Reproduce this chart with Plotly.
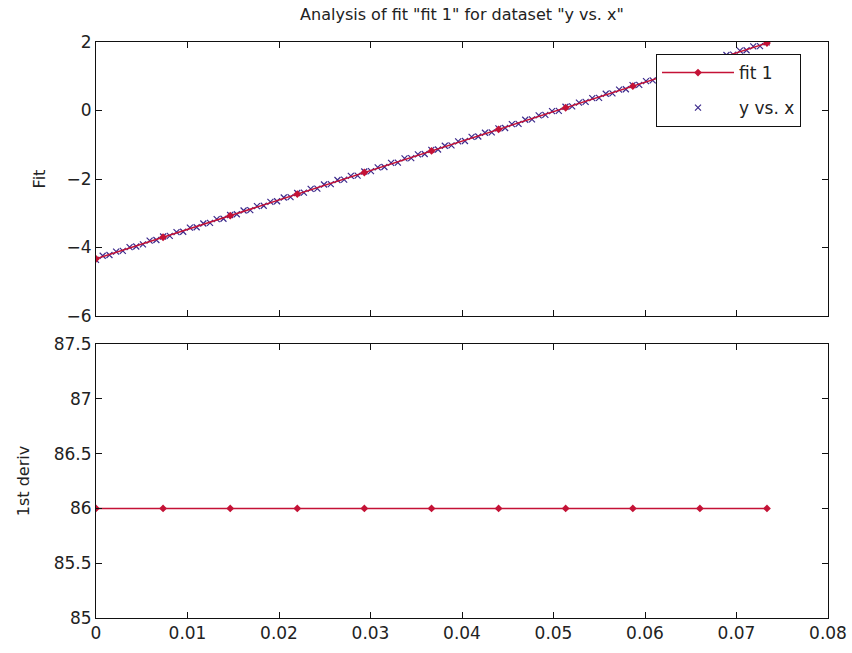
import plotly.graph_objects as go

# ---- data ----
fit_x = [0, 0.00733, 0.01467, 0.02200, 0.02933, 0.03667, 0.04400, 0.05133, 0.05867, 0.06600, 0.07333]
fit_y = [-4.33, -3.70, -3.07, -2.44, -1.81, -1.18, -0.55, 0.08, 0.71, 1.34, 1.97]
deriv_y = [86.0, 86.0, 86.0, 86.0, 86.0, 86.0, 86.0, 86.0, 86.0, 86.0, 86.0]

data_x = [0, 0.00073, 0.00147, 0.00220, 0.00293, 0.00367, 0.00440, 0.00513, 0.00586, 0.00660,
          0.00733, 0.00806, 0.00880, 0.00953, 0.01026, 0.01100, 0.01173, 0.01246, 0.01319, 0.01393,
          0.01466, 0.01539, 0.01613, 0.01686, 0.01759, 0.01833, 0.01906, 0.01979, 0.02052, 0.02126,
          0.02199, 0.02272, 0.02346, 0.02419, 0.02492, 0.02566, 0.02639, 0.02712, 0.02785, 0.02859,
          0.02932, 0.03005, 0.03079, 0.03152, 0.03225, 0.03299, 0.03372, 0.03445, 0.03518, 0.03592,
          0.03665, 0.03738, 0.03812, 0.03885, 0.03958, 0.04032, 0.04105, 0.04178, 0.04251, 0.04325,
          0.04398, 0.04471, 0.04545, 0.04618, 0.04691, 0.04765, 0.04838, 0.04911, 0.04984, 0.05058,
          0.05131, 0.05204, 0.05278, 0.05351, 0.05424, 0.05498, 0.05571, 0.05644, 0.05717, 0.05791,
          0.05864, 0.05937, 0.06011, 0.06084, 0.06157, 0.06231, 0.06304, 0.06377, 0.06450, 0.06524,
          0.06597, 0.06670, 0.06744, 0.06817, 0.06890, 0.06964, 0.07037, 0.07110, 0.07183, 0.07257,
          0.07330]
data_y = [-4.36, -4.24, -4.22, -4.12, -4.10, -3.99, -3.97, -3.91, -3.80, -3.78,
          -3.68, -3.66, -3.55, -3.54, -3.42, -3.41, -3.30, -3.28, -3.17, -3.16,
          -3.05, -3.03, -2.92, -2.91, -2.79, -2.78, -2.67, -2.65, -2.54, -2.53,
          -2.41, -2.40, -2.29, -2.28, -2.16, -2.15, -2.03, -2.02, -1.91, -1.90,
          -1.78, -1.77, -1.66, -1.65, -1.53, -1.52, -1.40, -1.39, -1.28, -1.27,
          -1.15, -1.14, -1.03, -1.02, -0.90, -0.89, -0.77, -0.76, -0.65, -0.64,
          -0.52, -0.51, -0.40, -0.39, -0.27, -0.26, -0.14, -0.13, -0.02, -0.01,
          0.11, 0.12, 0.23, 0.25, 0.36, 0.37, 0.49, 0.50, 0.61, 0.62,
          0.74, 0.75, 0.86, 0.88, 0.99, 1.00, 1.12, 1.13, 1.24, 1.25,
          1.37, 1.38, 1.49, 1.51, 1.62, 1.63, 1.75, 1.76, 1.87, 1.88,
          1.99]

x_ticks = [0, 0.01, 0.02, 0.03, 0.04, 0.05, 0.06, 0.07, 0.08]
top_y_ticks = [-6, -4, -2, 0, 2]
bot_y_ticks = [85, 85.5, 86, 86.5, 87, 87.5]

title_text = 'Analysis of fit "fit 1" for dataset "y vs. x"'

# ---- style ----
RED = "#c41236"
BLUE = "#3c2a8c"
FONT = "DejaVu Sans"
TXT = "#222"
W, H = 852, 653
L, R = 96, 828
T1, B1 = 42, 316
T2, B2 = 344, 618

fig = go.Figure()
fig.add_trace(go.Scatter(x=data_x, y=data_y, mode="markers", name="y vs. x",
                         legendgroup="b", legendrank=2,
                         marker=dict(symbol="x-thin", size=6, color=BLUE,
                                     line=dict(width=1.2, color=BLUE)),
                         xaxis="x", yaxis="y"))
fig.add_trace(go.Scatter(x=fit_x, y=fit_y, mode="lines+markers", name="fit 1",
                         legendgroup="a", legendrank=1,
                         line=dict(color=RED, width=1.5),
                         marker=dict(symbol="diamond", size=6, color=RED),
                         xaxis="x", yaxis="y"))
fig.add_trace(go.Scatter(x=fit_x, y=deriv_y, mode="lines+markers", showlegend=False,
                         line=dict(color=RED, width=1.5),
                         marker=dict(symbol="diamond", size=6, color=RED),
                         xaxis="x2", yaxis="y2"))

axis_common = dict(showline=True, linecolor="#111", linewidth=1, mirror="ticks",
                   ticks="inside", ticklen=6, tickcolor="#111", showgrid=False,
                   zeroline=False, automargin=False,
                   tickfont=dict(family=FONT, size=17, color=TXT))

fig.update_layout(
    width=W, height=H,
    margin=dict(l=0, r=0, t=0, b=0),
    paper_bgcolor="white", plot_bgcolor="white",
    title=dict(text=title_text, x=(L + R) / 2 / W, xanchor="center",
               y=1 - 14 / H, yanchor="middle",
               font=dict(family=FONT, size=16, color=TXT)),
    xaxis=dict(domain=[L / W, R / W], range=[0, 0.08], tickvals=x_ticks,
               showticklabels=False, anchor="y", **axis_common),
    yaxis=dict(domain=[1 - B1 / H, 1 - T1 / H], range=[-6, 2], tickvals=top_y_ticks,
               anchor="x",
               title=dict(text="Fit", standoff=16, font=dict(family=FONT, size=16, color=TXT)),
               **axis_common),
    xaxis2=dict(domain=[L / W, R / W], range=[0, 0.08], tickvals=x_ticks,
                ticktext=[str(v) for v in x_ticks], anchor="y2", **axis_common),
    yaxis2=dict(domain=[1 - B2 / H, 1 - T2 / H], range=[85, 87.5], tickvals=bot_y_ticks,
                ticktext=["85", "85.5", "86", "86.5", "87", "87.5"], anchor="x2",
                title=dict(text="1st deriv", standoff=20, font=dict(family=FONT, size=16, color=TXT)),
                **axis_common),
    legend=dict(x=656 / W, y=1 - 54 / H, xanchor="left", yanchor="top",
                bgcolor="white", bordercolor="#111", borderwidth=1,
                font=dict(family=FONT, size=17, color=TXT),
                traceorder="grouped", tracegroupgap=10, itemwidth=72),
    showlegend=True,
)

fig.write_html("out.html")
